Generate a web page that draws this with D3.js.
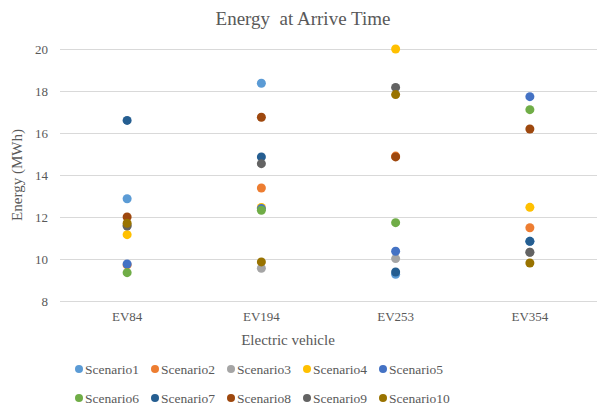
<!DOCTYPE html>
<html>
<head>
<meta charset="utf-8">
<script src="https://cdn.jsdelivr.net/npm/d3@7"></script>
<style>
  html, body { margin: 0; padding: 0; background: #fff; }
  svg { display: block; }
</style>
</head>
<body>
<svg id="chart" width="598" height="406"></svg>
<script>
// Electric vehicles on the x axis
const vehicles = ["EV84", "EV194", "EV253", "EV354"];

// Energy at arrival (MWh) per scenario, one value per vehicle
const scenario1  = [12.87, 18.37, 9.27, 10.84];
const scenario2  = [9.72, 13.38, 14.9, 11.49];
const scenario3  = [11.6, 9.56, 10.02, 10.32];
const scenario4  = [11.16, 12.45, 20.0, 12.46];
const scenario5  = [9.76, 12.4, 10.37, 17.73];
const scenario6  = [9.35, 12.32, 11.73, 17.11];
const scenario7  = [16.6, 14.86, 9.38, 10.84];
const scenario8  = [12.0, 16.75, 14.86, 16.19];
const scenario9  = [11.57, 14.54, 18.17, 10.32];
const scenario10 = [11.7, 9.86, 17.83, 9.81];

const seriesNames = ["Scenario1", "Scenario2", "Scenario3", "Scenario4", "Scenario5",
                     "Scenario6", "Scenario7", "Scenario8", "Scenario9", "Scenario10"];
const seriesValues = [scenario1, scenario2, scenario3, scenario4, scenario5,
                      scenario6, scenario7, scenario8, scenario9, scenario10];
const seriesColors = ["#5B9BD5", "#ED7D31", "#A5A5A5", "#FFC000", "#4472C4",
                      "#70AD47", "#255E91", "#9E480E", "#636363", "#997300"];

const yTicks = [8, 10, 12, 14, 16, 18, 20];

const FONT = "'Liberation Serif', 'Times New Roman', serif";
const TEXT_COLOR = "#595959";

const svg = d3.select("#chart");
const plot = { left: 60, right: 597, top: 49, bottom: 301 };

const x = d3.scaleBand().domain(vehicles).range([plot.left, plot.right]);
const y = d3.scaleLinear().domain([8, 20]).range([plot.bottom, plot.top]);

// Title
svg.append("text")
  .attr("x", 303).attr("y", 25)
  .attr("text-anchor", "middle")
  .attr("xml:space", "preserve")
  .style("white-space", "pre")
  .style("font-family", FONT)
  .style("font-size", "19px")
  .style("fill", TEXT_COLOR)
  .text("Energy  at Arrive Time");

// Horizontal gridlines and y tick labels
const yAxis = d3.axisLeft(y).tickValues(yTicks).tickSize(-(plot.right - plot.left)).tickPadding(12);
const gy = svg.append("g").attr("transform", `translate(${plot.left},0)`).call(yAxis);
gy.select(".domain").remove();
gy.selectAll(".tick line").attr("stroke", "#D9D9D9").attr("stroke-width", 1);
gy.selectAll(".tick text")
  .style("font-size", "13px")
  .style("font-family", FONT)
  .style("fill", TEXT_COLOR);

// Category axis labels
const xAxis = d3.axisBottom(x).tickSize(0).tickPadding(11);
const gx = svg.append("g").attr("transform", `translate(0,${plot.bottom})`).call(xAxis);
gx.select(".domain").remove();
gx.selectAll(".tick text")
  .style("font-size", "13px")
  .style("font-family", FONT)
  .style("fill", TEXT_COLOR);

// Axis titles
svg.append("text")
  .attr("x", 288).attr("y", 345)
  .attr("text-anchor", "middle")
  .style("font-family", FONT)
  .style("font-size", "15px")
  .style("fill", TEXT_COLOR)
  .text("Electric vehicle");

svg.append("text")
  .attr("transform", `translate(22,${(plot.top + plot.bottom) / 2}) rotate(-90)`)
  .attr("text-anchor", "middle")
  .style("font-family", FONT)
  .style("font-size", "15px")
  .style("fill", TEXT_COLOR)
  .text("Energy (MWh)");

// Scatter points, later scenarios drawn on top
seriesValues.forEach((vals, i) => {
  svg.append("g")
    .selectAll("circle")
    .data(vals)
    .join("circle")
    .attr("cx", (d, j) => x(vehicles[j]) + x.bandwidth() / 2)
    .attr("cy", d => y(d))
    .attr("r", 4.5)
    .attr("fill", seriesColors[i]);
});

// Legend in two rows of five
const legend = svg.append("g");
seriesNames.forEach((name, i) => {
  const row = Math.floor(i / 5), col = i % 5;
  const lx = 79 + col * 76, ly = 369 + row * 29;
  const item = legend.append("g").attr("transform", `translate(${lx},${ly})`);
  item.append("circle").attr("r", 4).attr("fill", seriesColors[i]);
  item.append("text")
    .attr("x", 6).attr("y", 4.5)
    .style("font-family", FONT)
    .style("font-size", "13.5px")
    .style("fill", TEXT_COLOR)
    .text(name);
});
</script>
</body>
</html>
